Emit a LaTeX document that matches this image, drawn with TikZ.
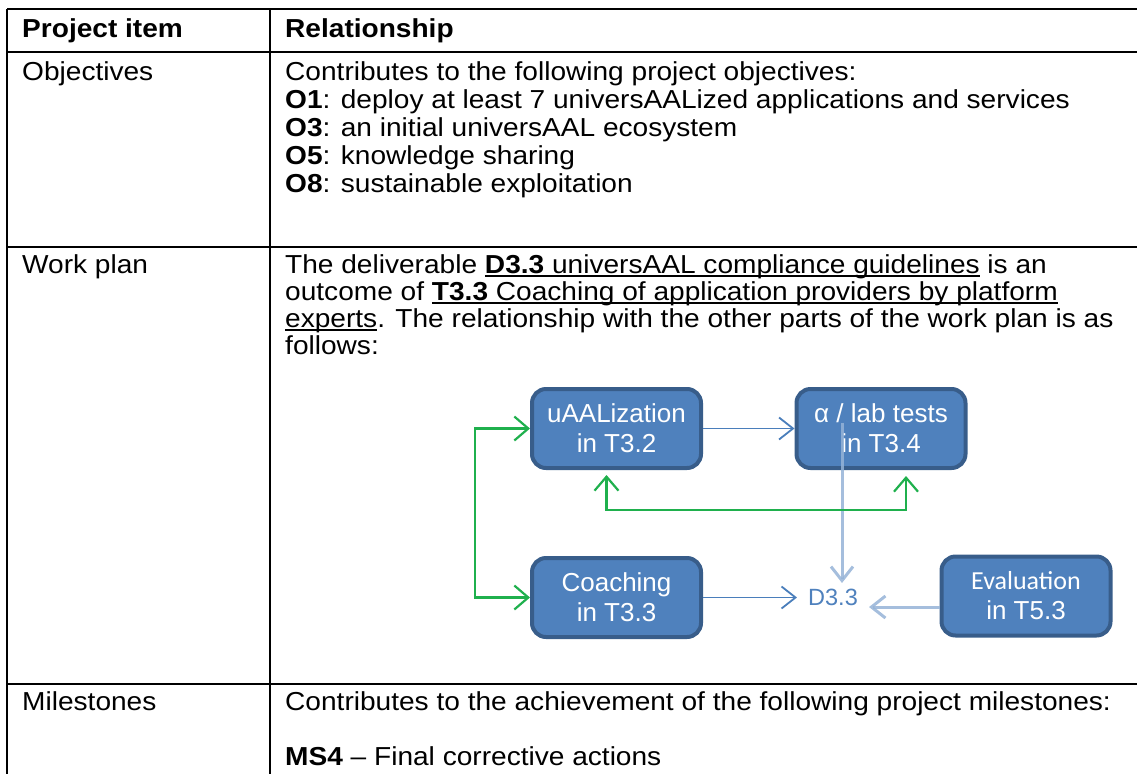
\documentclass[tikz,border=0pt]{standalone}
\usepackage{fontspec}
\setmainfont{Liberation Sans}
\newfontfamily\tabfont[FakeStretch=1.08]{Liberation Sans}
\newfontfamily\calfont{Carlito}
\usetikzlibrary{arrows.meta}

\definecolor{taskfill}{HTML}{4F81BD}
\definecolor{taskedge}{HTML}{385D8A}
\definecolor{flowblue}{HTML}{4A7EBB}
\definecolor{paleblue}{HTML}{95B3D7}
\definecolor{linkgreen}{HTML}{1FB04D}

\newcommand{\ulin}[1]{\setbox0=\hbox{#1}\rlap{\rule[-3.5pt]{\wd0}{1.8pt}}\box0\relax}

\begin{document}
\begin{tikzpicture}[
    x=1pt, y=-1pt,
    cell/.style={anchor=base west, inner sep=0pt, font=\tabfont\fontsize{26}{28}\selectfont},
    grid/.style={line width=2.6pt},
    task/.style={draw=taskedge, fill=taskfill, line width=4pt, rounded corners=14pt,
                 minimum width=169pt, minimum height=79pt, text=white, align=center,
                 font=\fontsize{26}{30}\selectfont},
    flow/.style={draw=flowblue, line width=1.8pt, -{Straight Barb[length=14pt,width=22pt]}},
    pale/.style={flow, draw=paleblue, opacity=0.85, line width=3pt},
    link/.style={draw=linkgreen, line width=2.2pt,
                 {Straight Barb[length=14pt,width=24pt]}-{Straight Barb[length=14pt,width=24pt]}}
]
\useasboundingbox (0,0) rectangle (1137,774);

% Define table rules
\draw[grid] (7,9) -- (1137,9);
\draw[grid] (7,52) -- (1137,52);
\draw[grid] (7,247) -- (1137,247);
\draw[grid] (7,684) -- (1137,684);
\draw[grid] (7,9) -- (7,774);
\draw[grid] (270,9) -- (270,774);

% Define header and left column
\node[cell] (head1) at (22,37) {\textbf{Project item}};
\node[cell] (head2) at (285,37) {\textbf{Relationship}};
\node[cell] (objl) at (22,80) {Objectives};
\node[cell] (planl) at (22,273) {Work plan};
\node[cell] (msl) at (22,710) {Milestones};

% Define objectives text
\node[cell] (obj0) at (285,80) {Contributes to the following project objectives:};
\node[cell] (obj1) at (285,108) {\textbf{O1}: deploy at least 7 universAALized applications and services};
\node[cell] (obj3) at (285,136) {\textbf{O3}: an initial universAAL ecosystem};
\node[cell] (obj5) at (285,164) {\textbf{O5}: knowledge sharing};
\node[cell] (obj8) at (285,192) {\textbf{O8}: sustainable exploitation};

% Define work plan text
\node[cell] (plan1) at (285,273) {The deliverable \ulin{\textbf{D3.3} universAAL compliance guidelines} is an};
\node[cell] (plan2) at (285,300) {outcome of \ulin{\textbf{T3.3} Coaching of application providers by platform}};
\node[cell] (plan3) at (285,327) {\ulin{experts}. The relationship with the other parts of the work plan is as};
\node[cell] (plan4) at (285,354) {follows:};

% Define milestones text
\node[cell] (ms0) at (285,710) {Contributes to the achievement of the following project milestones:};
\node[cell] (ms4) at (285,765) {\textbf{MS4} – Final corrective actions};

% Define tasks in the same layout
\node[task] (uaal) at (616.5,428.5) {uAALization\\in T3.2};
\node[task] (alpha) at (881,428.5) {α / lab tests\\in T3.4};
\node[task] (coach) at (616.5,597.5) {Coaching\\in T3.3};
\node[task] (eval) at (1026,596) {{\calfont Evaluation}\\in T5.3};
\node[text=taskfill, font=\fontsize{23.5}{26}\selectfont, inner xsep=11pt, inner ysep=6pt] (d33) at (833,597.5) {D3.3};

% Define relations
\draw[flow] (uaal.east) -- (alpha.west);
\draw[flow] (coach.east) -- (d33.west);
\draw[pale] ([xshift=-39pt,yshift=6pt]alpha.center) -- ([xshift=9pt]d33.north);
\draw[pale] ([yshift=-11pt]eval.west) -- ([yshift=-11pt]eval.west -| d33.east);
\draw[link] (uaal.west) -- ++(-55,0) |- (coach.west);
\draw[link] ([xshift=-10pt,yshift=-5pt]uaal.south) -- ++(0,35) -| ([xshift=25pt,yshift=-6pt]alpha.south);

\end{tikzpicture}
\end{document}
